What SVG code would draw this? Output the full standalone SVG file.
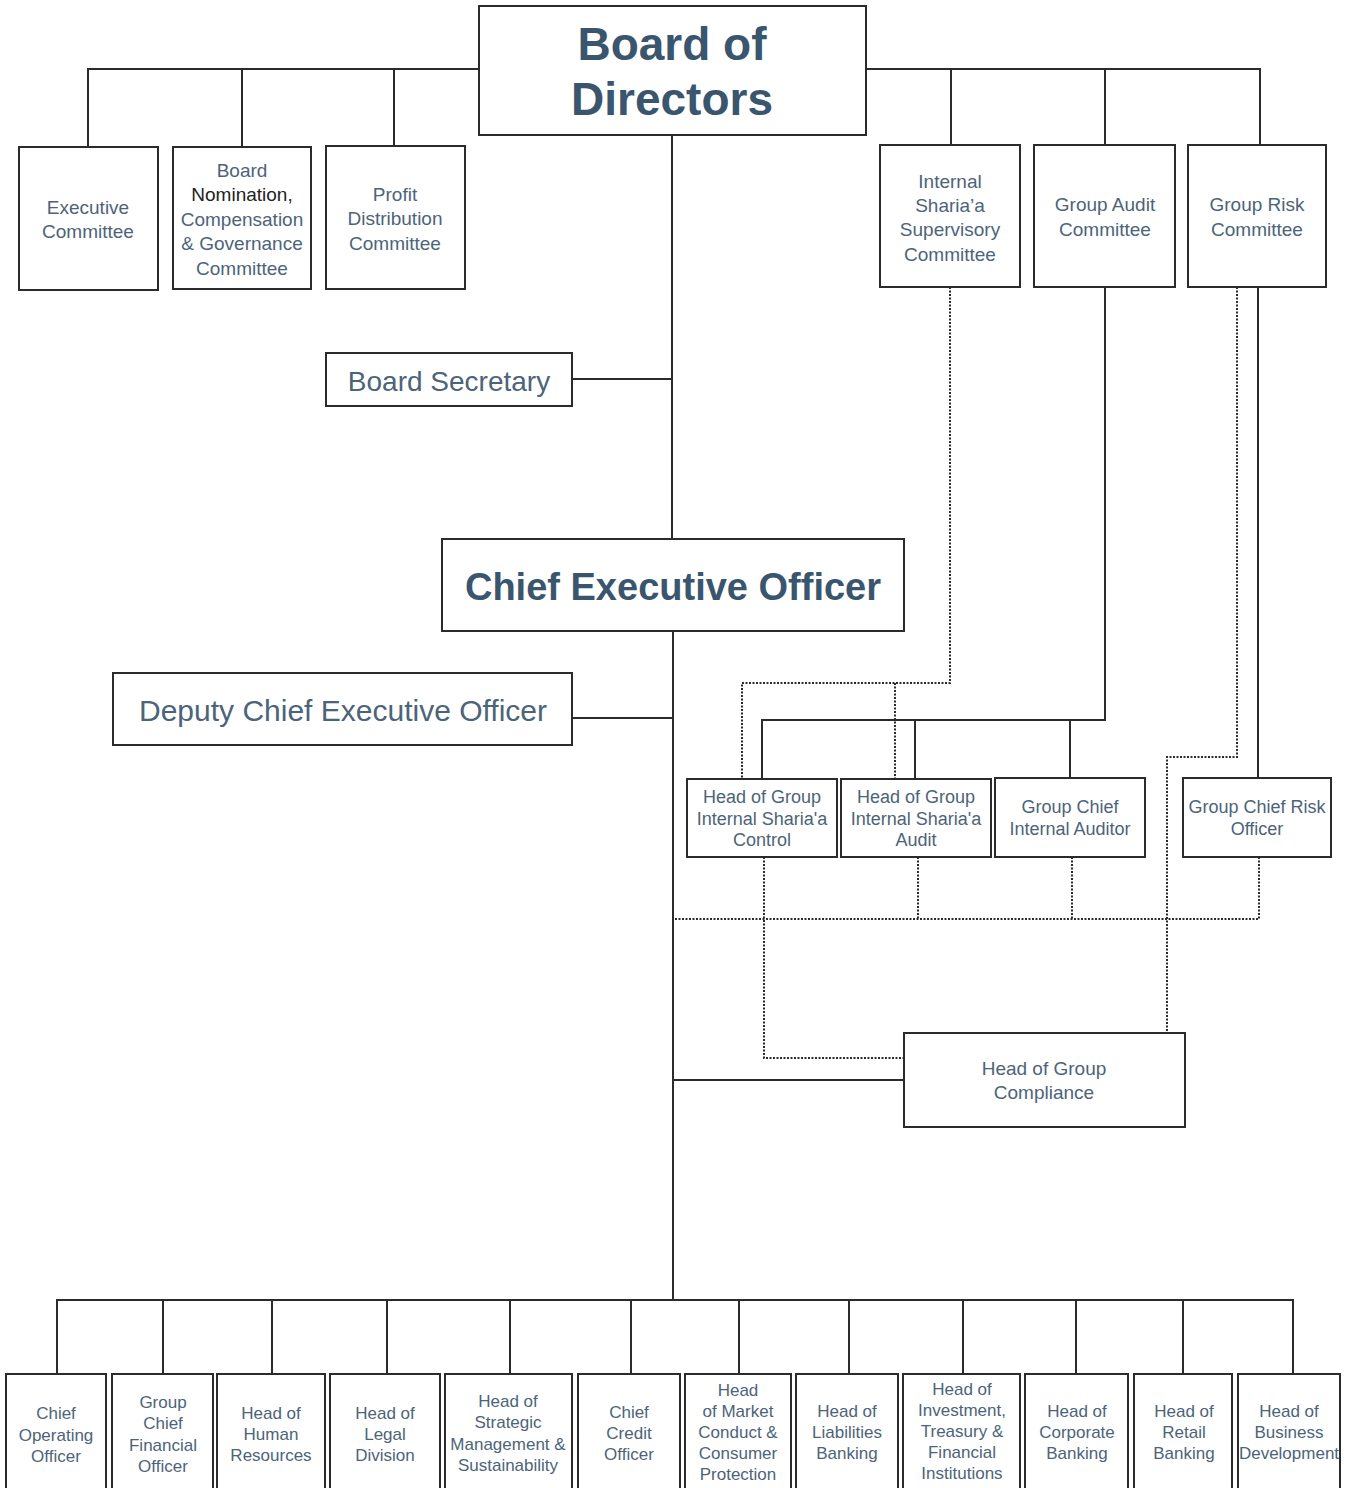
<svg xmlns="http://www.w3.org/2000/svg" width="1351" height="1488" viewBox="0 0 1351 1488">
<style>
.box{fill:#fff;stroke:#2b2b2b;stroke-width:2}
.ln{fill:none;stroke:#2b2b2b;stroke-width:2}
.dt{fill:none;stroke:#2b2b2b;stroke-width:2;stroke-dasharray:2 1.5}
text{font-family:"Liberation Sans",Arial,sans-serif;fill:#4c6479;text-anchor:middle;dominant-baseline:central}
.t19{font-size:19px}
.t17{font-size:17px}
.t18{font-size:18px}
.big{font-size:46px;font-weight:bold;fill:#3a556e}
.ceo{font-size:38px;font-weight:bold;fill:#3a556e}
.dk{fill:#222}
</style>
<rect width="1351" height="1488" fill="#fff"/>
<g id="connectors">
<path class="ln" d="M479 69H88V147M242 69V147M394 69V146"/>
<path class="ln" d="M866 69H1260V145M951 69V145M1105 69V145"/>
<path class="ln" d="M672 135V539M572 379H672"/>
<path class="ln" d="M673 631V1300M572 718H673M673 1080H904"/>
<path class="ln" d="M1105 287V720H762V779M915 720V779M1070 720V778"/>
<path class="ln" d="M1258 287V778"/>
<path class="dt" d="M950 287V683H742V779M895 683V779"/>
<path class="dt" d="M1237 287V757H1167V1033"/>
<path class="dt" d="M675 919H1259V857M764 857V1058H904M918 857V919M1072 857V919"/>
<path class="ln" d="M57 1374V1300H1293V1373M163 1300V1374M272 1300V1374M387 1300V1374M510 1300V1374M631 1300V1374M739 1300V1374M849 1300V1374M963 1300V1374M1076 1300V1374M1183 1300V1374"/>
</g>
<g id="board"><rect class="box" x="479" y="6" width="387" height="129"/><text class="big" x="672" y="44">Board of</text><text class="big" x="672" y="99">Directors</text></g>
<g id="exec"><rect class="box" x="19" y="147" width="139" height="143"/><text class="t19" x="88" y="207">Executive</text><text class="t19" x="88" y="231">Committee</text></g>
<g id="nomination"><rect class="box" x="173" y="147" width="138" height="142"/><text class="t19" x="242" y="170">Board</text><text class="t19 dk" x="242" y="194">Nomination,</text><text class="t19" x="242" y="219">Compensation</text><text class="t19" x="242" y="243">&amp; Governance</text><text class="t19" x="242" y="268">Committee</text></g>
<g id="profit"><rect class="box" x="326" y="146" width="139" height="143"/><text class="t19" x="395" y="194">Profit</text><text class="t19" x="395" y="218">Distribution</text><text class="t19" x="395" y="243">Committee</text></g>
<g id="sharia-committee"><rect class="box" x="880" y="145" width="140" height="142"/><text class="t19" x="950" y="181">Internal</text><text class="t19" x="950" y="205">Sharia’a</text><text class="t19" x="950" y="229">Supervisory</text><text class="t19" x="950" y="254">Committee</text></g>
<g id="audit-committee"><rect class="box" x="1034" y="145" width="141" height="142"/><text class="t19" x="1105" y="204">Group Audit</text><text class="t19" x="1105" y="229">Committee</text></g>
<g id="risk-committee"><rect class="box" x="1188" y="145" width="138" height="142"/><text class="t19" x="1257" y="204">Group Risk</text><text class="t19" x="1257" y="229">Committee</text></g>
<g id="secretary"><rect class="box" x="326" y="353" width="246" height="53"/><text x="449" y="381" font-size="28">Board Secretary</text></g>
<g id="ceo"><rect class="box" x="442" y="539" width="462" height="92"/><text class="ceo" x="673" y="587">Chief Executive Officer</text></g>
<g id="deputy"><rect class="box" x="113" y="673" width="459" height="72"/><text x="343" y="710" font-size="30">Deputy Chief Executive Officer</text></g>
<g id="sharia-control"><rect class="box" x="687" y="779" width="150" height="78"/><text class="t18" x="762" y="797">Head of Group</text><text class="t18" x="762" y="819">Internal Sharia'a</text><text class="t18" x="762" y="840">Control</text></g>
<g id="sharia-audit"><rect class="box" x="841" y="779" width="150" height="78"/><text class="t18" x="916" y="797">Head of Group</text><text class="t18" x="916" y="819">Internal Sharia'a</text><text class="t18" x="916" y="840">Audit</text></g>
<g id="internal-auditor"><rect class="box" x="995" y="778" width="150" height="79"/><text class="t18" x="1070" y="807">Group Chief</text><text class="t18" x="1070" y="829">Internal Auditor</text></g>
<g id="risk-officer"><rect class="box" x="1183" y="778" width="148" height="79"/><text class="t18" x="1257" y="807">Group Chief Risk</text><text class="t18" x="1257" y="829">Officer</text></g>
<g id="compliance"><rect class="box" x="904" y="1033" width="281" height="94"/><text class="t19" x="1044" y="1068">Head of Group</text><text class="t19" x="1044" y="1092">Compliance</text></g>
<g id="coo"><rect class="box" x="6" y="1374" width="100" height="120"/><text class="t17" x="56" y="1413">Chief</text><text class="t17" x="56" y="1435">Operating</text><text class="t17" x="56" y="1456">Officer</text></g>
<g id="cfo"><rect class="box" x="112" y="1374" width="101" height="120"/><text class="t17" x="163" y="1402">Group</text><text class="t17" x="163" y="1423">Chief</text><text class="t17" x="163" y="1445">Financial</text><text class="t17" x="163" y="1466">Officer</text></g>
<g id="hr"><rect class="box" x="217" y="1374" width="108" height="120"/><text class="t17" x="271" y="1413">Head of</text><text class="t17" x="271" y="1434">Human</text><text class="t17" x="271" y="1455">Resources</text></g>
<g id="legal"><rect class="box" x="330" y="1374" width="110" height="120"/><text class="t17" x="385" y="1413">Head of</text><text class="t17" x="385" y="1434">Legal</text><text class="t17" x="385" y="1455">Division</text></g>
<g id="strategic"><rect class="box" x="445" y="1374" width="127" height="120"/><text class="t17" x="508" y="1401">Head of</text><text class="t17" x="508" y="1422">Strategic</text><text class="t17" x="508" y="1444">Management &amp;</text><text class="t17" x="508" y="1465">Sustainability</text></g>
<g id="cco"><rect class="box" x="578" y="1374" width="102" height="120"/><text class="t17" x="629" y="1412">Chief</text><text class="t17" x="629" y="1433">Credit</text><text class="t17" x="629" y="1454">Officer</text></g>
<g id="market"><rect class="box" x="685" y="1374" width="106" height="120"/><text class="t17" x="738" y="1390">Head</text><text class="t17" x="738" y="1411">of Market</text><text class="t17" x="738" y="1432">Conduct &amp;</text><text class="t17" x="738" y="1453">Consumer</text><text class="t17" x="738" y="1474">Protection</text></g>
<g id="liabilities"><rect class="box" x="796" y="1374" width="102" height="120"/><text class="t17" x="847" y="1411">Head of</text><text class="t17" x="847" y="1432">Liabilities</text><text class="t17" x="847" y="1453">Banking</text></g>
<g id="investment"><rect class="box" x="903" y="1374" width="117" height="120"/><text class="t17" x="962" y="1389">Head of</text><text class="t17" x="962" y="1410">Investment,</text><text class="t17" x="962" y="1431">Treasury &amp;</text><text class="t17" x="962" y="1452">Financial</text><text class="t17" x="962" y="1473">Institutions</text></g>
<g id="corporate"><rect class="box" x="1025" y="1374" width="103" height="120"/><text class="t17" x="1077" y="1411">Head of</text><text class="t17" x="1077" y="1432">Corporate</text><text class="t17" x="1077" y="1453">Banking</text></g>
<g id="retail"><rect class="box" x="1134" y="1374" width="98" height="120"/><text class="t17" x="1184" y="1411">Head of</text><text class="t17" x="1184" y="1432">Retail</text><text class="t17" x="1184" y="1453">Banking</text></g>
<g id="bizdev"><rect class="box" x="1238" y="1374" width="102" height="120"/><text class="t17" x="1289" y="1411">Head of</text><text class="t17" x="1289" y="1432">Business</text><text class="t17" x="1289" y="1453">Development</text></g>
</svg>
